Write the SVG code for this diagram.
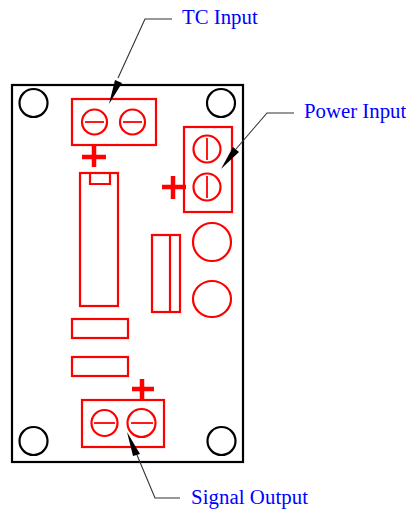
<svg xmlns="http://www.w3.org/2000/svg" width="406" height="510" viewBox="0 0 406 510">
<style>
.r{fill:none;stroke:#f00;stroke-width:2.2}
.t{fill:none;stroke:#f00;stroke-width:1.8}
.p{fill:none;stroke:#f00;stroke-width:4.500}
.b{fill:none;stroke:#000;stroke-width:2.200}
.l{fill:none;stroke:#333;stroke-width:1.100}
.a{fill:#000;stroke:none}
text{font-family:"Liberation Serif",serif;font-size:20.800px;fill:#00f}
</style>
<g id="board"><rect class="b" x="12" y="85" width="231" height="377"/>
<circle class="b" cx="33.500" cy="103" r="14"/><circle class="b" cx="221" cy="103" r="14"/><circle class="b" cx="33.500" cy="441" r="14"/><circle class="b" cx="221.500" cy="441" r="14"/></g>
<g id="tc-block"><rect class="r" x="72" y="99" width="84" height="46"/>
<circle class="r" cx="94.500" cy="122" r="12.500"/><path class="t" d="M85 122H104"/>
<circle class="r" cx="132.500" cy="122" r="12.500"/><path class="t" d="M123 122H142"/>
<path class="p" d="M82 157H106M94 146V167"/></g>
<g id="ic"><rect class="r" x="80" y="173" width="38" height="133"/><path class="r" d="M90 173V184H110V173"/></g>
<g id="power-block"><rect class="r" x="184" y="127" width="48" height="85"/>
<circle class="r" cx="207" cy="149" r="13.500"/><path class="t" d="M207 138V160"/>
<circle class="r" cx="207" cy="187" r="13.500"/><path class="t" d="M207 176V198"/>
<path class="p" d="M162 187H186M173 176V199"/></g>
<g id="capacitor"><rect class="r" x="152" y="235" width="28" height="77"/><path class="r" d="M170 235V312"/></g>
<g id="circle-1"><circle class="r" cx="212" cy="242" r="19"/></g>
<g id="circle-2"><ellipse class="r" cx="212" cy="299" rx="19" ry="18"/></g>
<g id="resistor-1"><rect class="r" x="72" y="319" width="56" height="19"/></g>
<g id="resistor-2"><rect class="r" x="72" y="357" width="56" height="19"/></g>
<g id="output-block"><rect class="r" x="82" y="400" width="82" height="47"/>
<circle class="r" cx="104.500" cy="423" r="13"/><path class="t" d="M94 423H115"/>
<circle class="r" cx="141.500" cy="423" r="14"/><path class="t" d="M131 423H153"/>
<path class="p" d="M132 389H154M142 379V401"/></g>
<g id="connectors">
<path class="l" d="M172 19H145L118 78"/><path class="a" d="M109 104L115 80L122 83Z"/>
<path class="l" d="M294 113H267L236 149"/><path class="a" d="M221 169L233 147L239 152Z"/>
<path class="l" d="M180 498H155L137 455"/><path class="a" d="M127 432L140 454L133 456Z"/>
</g>
<g id="labels"><text x="182" y="24">TC Input</text><text x="304" y="118">Power Input</text><text x="191" y="504" textLength="117">Signal Output</text></g>
</svg>
